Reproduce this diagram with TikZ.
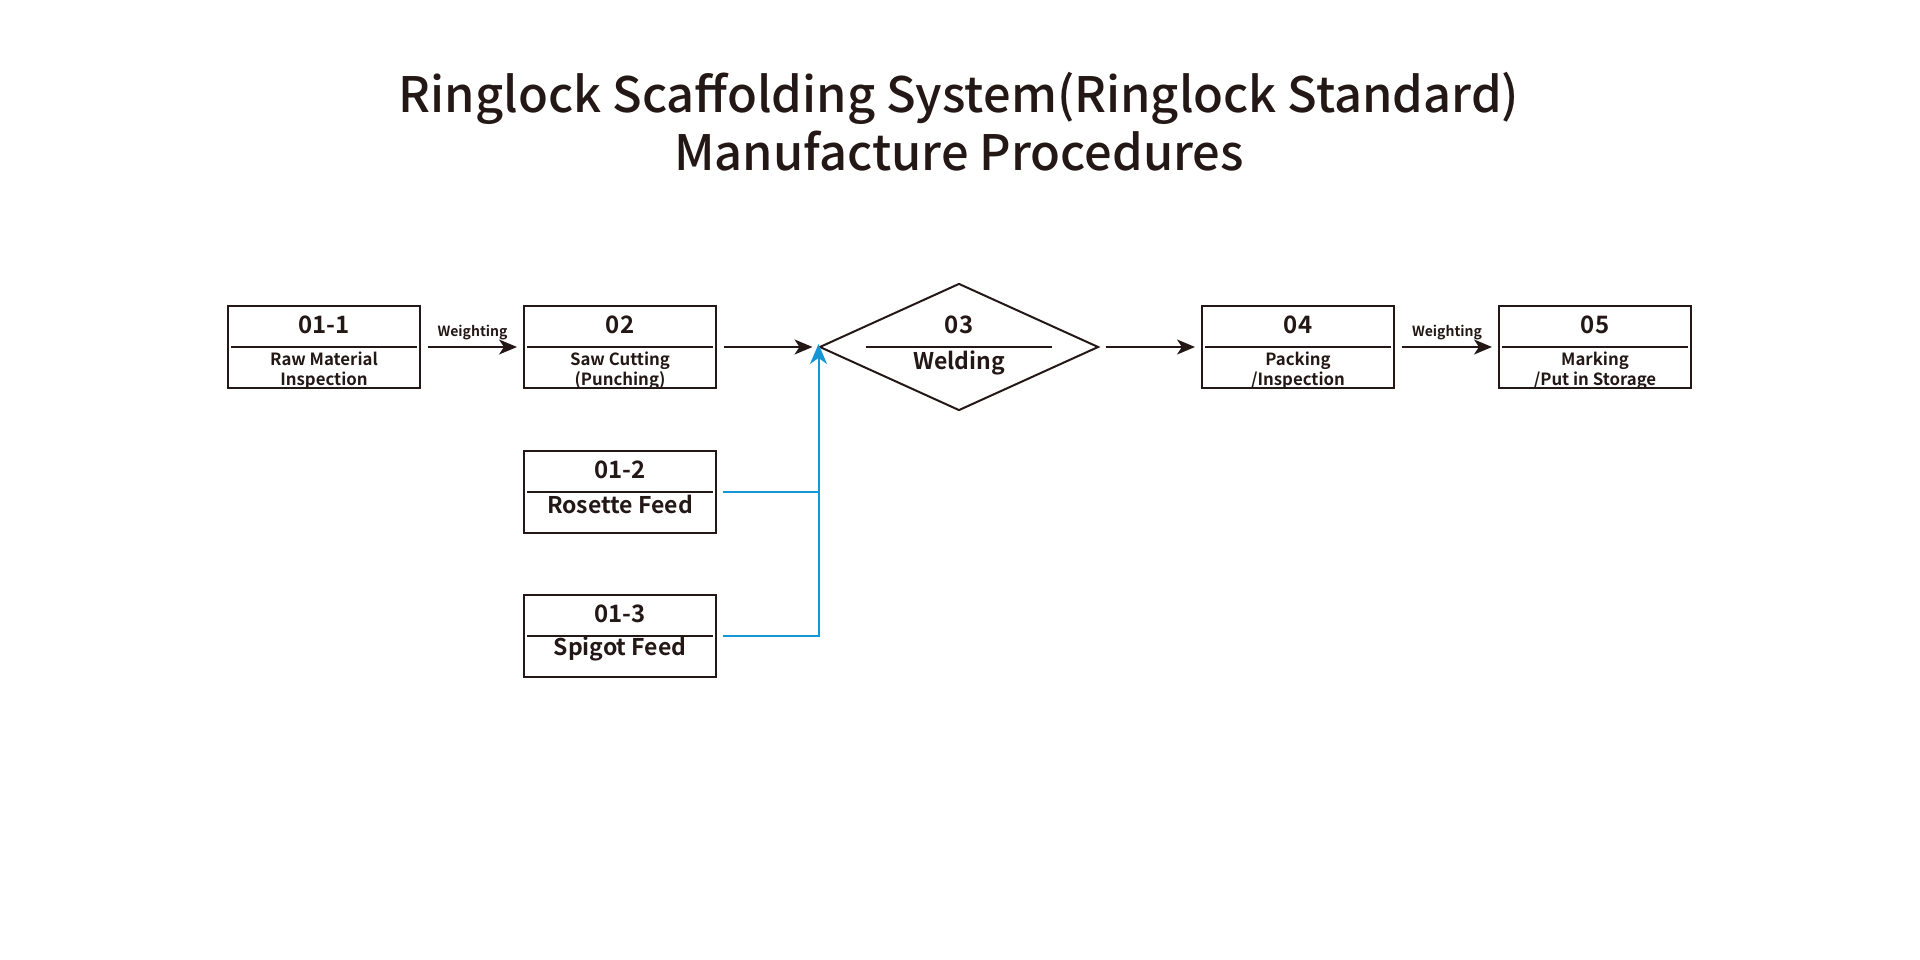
\documentclass[tikz,border=0pt]{standalone}
\usepackage{fontspec}
\setmainfont{Noto Sans CJK SC}[BoldFont={Noto Sans CJK SC Bold}]
\newfontfamily\titlefont{Noto Sans CJK SC Medium}
\usetikzlibrary{shapes.geometric,arrows.meta}
\definecolor{ink}{RGB}{35,24,21}
\definecolor{feed}{RGB}{23,150,213}
\tikzset{
  px/.style={x=1pt,y=-1pt},
  stepbox/.style={draw=ink,line width=2pt,rectangle,minimum width=192pt,minimum height=82pt,inner sep=0pt},
  divider/.style={draw=ink,line width=2pt},
  numtxt/.style={text=ink,font=\fontsize{24}{26}\selectfont\bfseries,inner sep=0pt},
  smalltxt/.style={text=ink,font=\fontsize{16.8}{20}\selectfont\bfseries,inner sep=0pt,align=center},
  bigtxt/.style={text=ink,font=\fontsize{23}{25}\selectfont\bfseries,inner sep=0pt},
  titletxt/.style={text=ink,font=\titlefont\fontsize{48.8}{56}\selectfont,inner sep=0pt},
  flow/.style={draw=ink,line width=2pt,-{Stealth[length=18pt,width=15pt,inset=5pt]}},
  feedline/.style={draw=feed,line width=2pt},
  feedarrow/.style={draw=feed,line width=2pt,-{Stealth[length=20pt,width=17pt,inset=6pt]}},
  wlabel/.style={text=ink,font=\fontsize{14}{16}\selectfont\bfseries,inner sep=0pt}
}
\begin{document}
\begin{tikzpicture}[px]
\useasboundingbox (0,0) rectangle (1920,960);
% title
\node[titletxt] (t1) at (959,98) {Ringlock Scaffolding System(Ringlock Standard)};
\node[titletxt] (t2) at (959,151) {Manufacture Procedures};
% boxes
\node[stepbox] (b011) at (324,347) {};
\node[stepbox] (b02) at (620,347) {};
\node[stepbox] (b04) at (1298,347) {};
\node[stepbox] (b05) at (1595,347) {};
\node[stepbox] (b012) at (620,492) {};
\node[stepbox] (b013) at (620,636) {};
\node[draw=ink,line width=2pt,diamond,minimum width=279pt,minimum height=127pt,inner sep=0pt] (dia) at (959,347) {};
% dividers
\foreach \b in {b011,b02,b04,b05,b012,b013}{
  \draw[divider] ([xshift=4pt]\b.west) -- ([xshift=-4pt]\b.east);
}
\draw[divider] (866,347) -- (1052,347);
% texts
\node[numtxt] (n011) at (324,325) {01-1};
\node[smalltxt] (s011) at (324,370.5) {Raw Material\\Inspection};
\node[numtxt] (n02) at (620,325) {02};
\node[smalltxt] (s02) at (620,370.5) {Saw Cutting\\(Punching)};
\node[numtxt] (n03) at (959,325) {03};
\node[bigtxt] (s03) at (959,363) {Welding};
\node[numtxt] (n04) at (1298,325) {04};
\node[smalltxt] (s04) at (1298,370.5) {Packing\\/Inspection};
\node[numtxt] (n05) at (1595,325) {05};
\node[smalltxt] (s05) at (1595,370.5) {Marking\\/Put in Storage};
\node[numtxt] (n012) at (620,470) {01-2};
\node[bigtxt] (s012) at (620,504) {Rosette Feed};
\node[numtxt] (n013) at (620,614) {01-3};
\node[bigtxt] (s013) at (620,649) {Spigot Feed};
% flow arrows
\draw[flow] ([xshift=7pt]b011.east) -- node[wlabel,above=6pt] (w1) {Weighting} ([xshift=-6pt]b02.west);
\draw[flow] ([xshift=7pt]b02.east) -- ([xshift=-6pt]dia.west);
\draw[flow] ([xshift=6pt]dia.east) -- ([xshift=-6pt]b04.west);
\draw[flow] ([xshift=7pt]b04.east) -- node[wlabel,above=6pt] (w2) {Weighting} ([xshift=-6pt]b05.west);
% feed lines
\coordinate (jn) at ([yshift=3pt]dia.west);
\draw[feedline] ([xshift=6pt]b012.east) -- (b012.east -| jn);
\draw[feedarrow] ([xshift=6pt]b013.east) -| (jn);
\end{tikzpicture}
\end{document}
